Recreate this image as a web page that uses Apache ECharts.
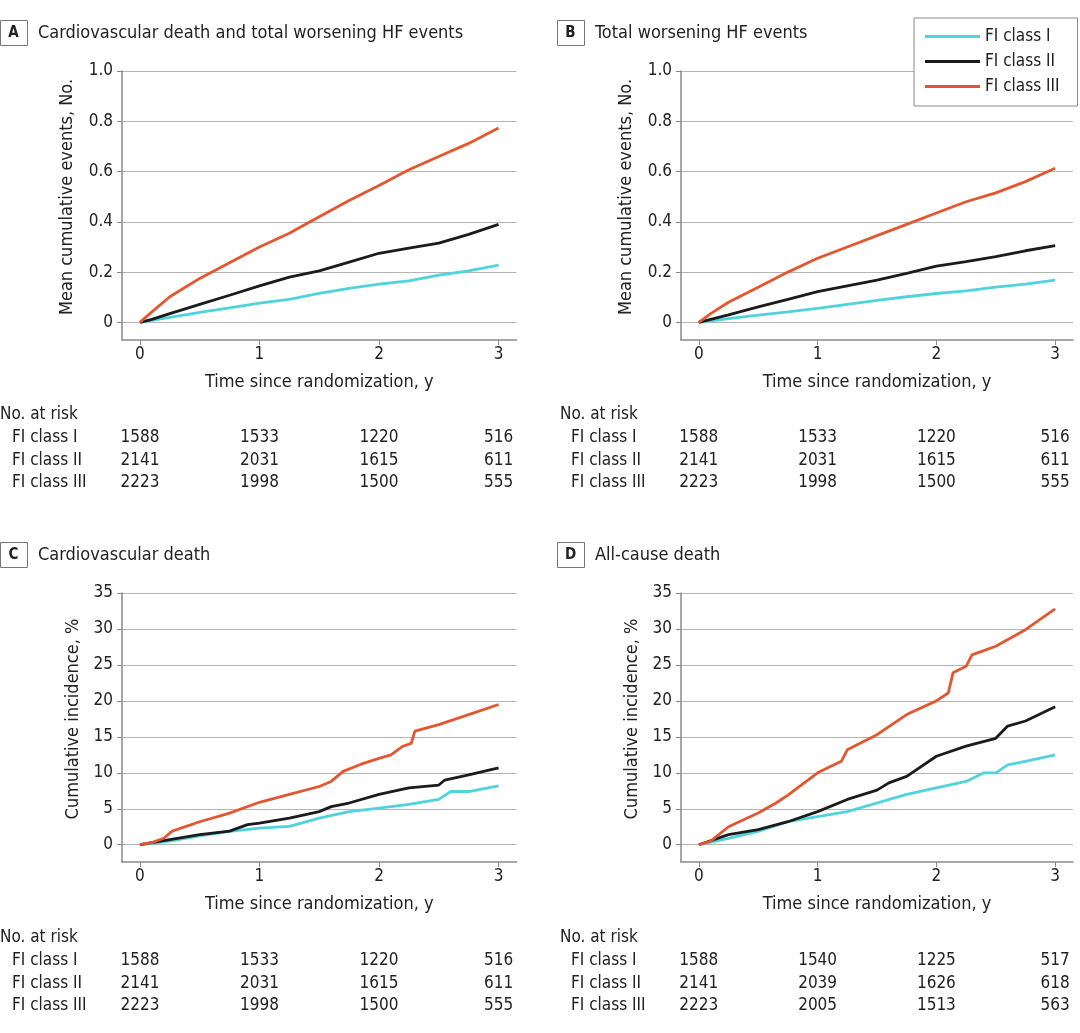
<!DOCTYPE html>
<html>
<head>
<meta charset="utf-8">
<script src="https://cdn.jsdelivr.net/npm/echarts@6/dist/echarts.min.js"></script>
<style>
  html, body { margin: 0; padding: 0; background: #fff; }
  #chart { width: 1080px; height: 1033px; }
</style>
</head>
<body>
<div id="chart"></div>
<script>
// series names
const classNames = ['FI class I', 'FI class II', 'FI class III']
const classColors = ['#4fd3dd', '#1b1b1b', '#e2572f']

// A: cardiovascular death and total worsening HF events (mean cumulative events)
const timeA = [0, 0.1, 0.25, 0.5, 0.75, 1, 1.25, 1.5, 1.75, 2, 2.25, 2.5, 2.75, 3]
const aClass1 = [0, 0.008, 0.02, 0.04, 0.058, 0.077, 0.092, 0.115, 0.135, 0.152, 0.165, 0.188, 0.205, 0.228]
const aClass2 = [0, 0.012, 0.035, 0.072, 0.108, 0.145, 0.18, 0.205, 0.24, 0.275, 0.295, 0.315, 0.35, 0.39]
const aClass3 = [0, 0.042, 0.102, 0.175, 0.237, 0.30, 0.355, 0.42, 0.485, 0.545, 0.607, 0.66, 0.712, 0.773]

// B: total worsening HF events
const timeB = [0, 0.1, 0.25, 0.5, 0.75, 1, 1.25, 1.5, 1.75, 2, 2.25, 2.5, 2.75, 3]
const bClass1 = [0, 0.006, 0.015, 0.029, 0.042, 0.056, 0.072, 0.088, 0.102, 0.115, 0.125, 0.14, 0.152, 0.168]
const bClass2 = [0, 0.012, 0.03, 0.062, 0.092, 0.122, 0.145, 0.168, 0.195, 0.224, 0.242, 0.262, 0.285, 0.305]
const bClass3 = [0, 0.035, 0.08, 0.14, 0.20, 0.255, 0.30, 0.345, 0.39, 0.435, 0.48, 0.515, 0.56, 0.613]

// C: cardiovascular death (cumulative incidence, %)
const cTime1 = [0, 0.25, 0.5, 0.75, 1, 1.25, 1.5, 1.75, 2, 2.25, 2.5, 2.6, 2.75, 3]
const cClass1 = [0, 0.5, 1.25, 1.85, 2.3, 2.55, 3.7, 4.6, 5.1, 5.6, 6.3, 7.4, 7.4, 8.2]
const cTime2 = [0, 0.25, 0.5, 0.75, 0.9, 1, 1.25, 1.5, 1.6, 1.75, 2, 2.25, 2.5, 2.55, 2.75, 3]
const cClass2 = [0, 0.7, 1.4, 1.9, 2.8, 3.0, 3.7, 4.6, 5.3, 5.8, 7.0, 7.9, 8.3, 9.0, 9.7, 10.7]
const cTime3 = [0, 0.1, 0.2, 0.27, 0.5, 0.75, 1, 1.25, 1.5, 1.6, 1.7, 1.85, 2, 2.1, 2.2, 2.27, 2.3, 2.5, 2.75, 3]
const cClass3 = [0, 0.3, 0.9, 1.9, 3.2, 4.4, 5.9, 7.0, 8.1, 8.8, 10.2, 11.2, 12.0, 12.5, 13.7, 14.1, 15.8, 16.7, 18.1, 19.5]

// D: all-cause death (cumulative incidence, %)
const dTime1 = [0, 0.25, 0.5, 0.75, 1, 1.25, 1.5, 1.75, 2, 2.25, 2.4, 2.5, 2.6, 2.75, 3]
const dClass1 = [0, 0.9, 1.85, 3.2, 3.9, 4.6, 5.8, 7.0, 7.9, 8.8, 10.0, 10.0, 11.1, 11.6, 12.5]
const dTime2 = [0, 0.25, 0.5, 0.75, 1, 1.25, 1.5, 1.6, 1.75, 2, 2.25, 2.5, 2.6, 2.75, 3]
const dClass2 = [0, 1.4, 2.1, 3.2, 4.6, 6.3, 7.6, 8.6, 9.5, 12.3, 13.7, 14.8, 16.5, 17.2, 19.2]
const dTime3 = [0, 0.1, 0.25, 0.5, 0.65, 0.75, 1, 1.2, 1.25, 1.5, 1.75, 2, 2.1, 2.14, 2.25, 2.3, 2.5, 2.75, 3]
const dClass3 = [0, 0.5, 2.5, 4.4, 5.8, 6.9, 10.0, 11.6, 13.2, 15.3, 18.1, 20.0, 21.1, 23.9, 24.8, 26.4, 27.6, 29.9, 32.8]

// axis ticks
const xTicks = [0, 1, 2, 3]
const eventTicks = [0, 0.2, 0.4, 0.6, 0.8, 1.0]
const incidenceTicks = [0, 5, 10, 15, 20, 25, 30, 35]

// no. at risk
const riskTimes = [0, 1, 2, 3]
const riskA1 = [1588, 1533, 1220, 516]
const riskA2 = [2141, 2031, 1615, 611]
const riskA3 = [2223, 1998, 1500, 555]
const riskB1 = [1588, 1533, 1220, 516]
const riskB2 = [2141, 2031, 1615, 611]
const riskB3 = [2223, 1998, 1500, 555]
const riskC1 = [1588, 1533, 1220, 516]
const riskC2 = [2141, 2031, 1615, 611]
const riskC3 = [2223, 1998, 1500, 555]
const riskD1 = [1588, 1540, 1225, 517]
const riskD2 = [2141, 2039, 1626, 618]
const riskD3 = [2223, 2005, 1513, 563]

const FONT = '"DejaVu Sans Condensed", "DejaVu Sans", sans-serif'
const TXT = '#222'

const zip = (xs, ys) => xs.map((x, i) => [x, ys[i]])

const panels = [
  {
    letter: 'A', title: 'Cardiovascular death and total worsening HF events',
    yName: 'Mean cumulative events, No.', ticks: eventTicks, yMin: -0.07, yMax: 1.0, split: 5,
    lines: [zip(timeA, aClass1), zip(timeA, aClass2), zip(timeA, aClass3)],
    risk: [riskA1, riskA2, riskA3]
  },
  {
    letter: 'B', title: 'Total worsening HF events',
    yName: 'Mean cumulative events, No.', ticks: eventTicks, yMin: -0.07, yMax: 1.0, split: 5,
    lines: [zip(timeB, bClass1), zip(timeB, bClass2), zip(timeB, bClass3)],
    risk: [riskB1, riskB2, riskB3]
  },
  {
    letter: 'C', title: 'Cardiovascular death',
    yName: 'Cumulative incidence, %', ticks: incidenceTicks, yMin: -2.4, yMax: 35, split: 7,
    lines: [zip(cTime1, cClass1), zip(cTime2, cClass2), zip(cTime3, cClass3)],
    risk: [riskC1, riskC2, riskC3]
  },
  {
    letter: 'D', title: 'All-cause death',
    yName: 'Cumulative incidence, %', ticks: incidenceTicks, yMin: -2.4, yMax: 35, split: 7,
    lines: [zip(dTime1, dClass1), zip(dTime2, dClass2), zip(dTime3, dClass3)],
    risk: [riskD1, riskD2, riskD3]
  }
]

// panel placement
const layout = [
  { left: 122, width: 394.5, top: 71, riskTop: 438, boxX: 0, boxY: 20, headY: 415, nameGap: 46 },
  { left: 681, width: 392, top: 71, riskTop: 438, boxX: 557, boxY: 20, headY: 415, nameGap: 46 },
  { left: 122, width: 394.5, top: 593, riskTop: 961, boxX: 0, boxY: 542, headY: 938, nameGap: 40 },
  { left: 681, width: 392, top: 593, riskTop: 961, boxX: 557, boxY: 542, headY: 938, nameGap: 40 }
]

const grid = [], xAxis = [], yAxis = [], series = [], graphic = []

panels.forEach((p, i) => {
  const L = layout[i]
  grid.push({ left: L.left, top: L.top, width: L.width, height: 269 })
  xAxis.push({
    type: 'value', gridIndex: i, min: -0.15, max: 3.15,
    name: 'Time since randomization, y', nameLocation: 'middle', nameGap: 33,
    nameTextStyle: { fontFamily: FONT, fontSize: 18, color: TXT },
    axisLine: { onZero: false, lineStyle: { color: '#8a8a8a', width: 1.5 } },
    axisTick: { length: 5, lineStyle: { color: '#8a8a8a' }, customValues: xTicks },
    axisLabel: { customValues: xTicks, margin: 6, fontFamily: FONT, fontSize: 17, color: TXT },
    splitLine: { show: false }
  })
  yAxis.push({
    type: 'value', gridIndex: i, min: p.yMin, max: p.yMax, splitNumber: p.split,
    name: p.yName, nameLocation: 'middle', nameGap: L.nameGap,
    nameTextStyle: { fontFamily: FONT, fontSize: 18, color: TXT, padding: [0, 0, 0, 17] },
    axisLine: { show: true, onZero: false, lineStyle: { color: '#8a8a8a', width: 1.5 } },
    axisTick: { show: true, length: 5, lineStyle: { color: '#8a8a8a' }, customValues: p.ticks },
    axisLabel: {
      customValues: p.ticks, margin: 9, fontFamily: FONT, fontSize: 17, color: TXT,
      formatter: v => (p.yMax === 1 && v !== 0) ? v.toFixed(1) : String(v)
    },
    splitLine: { show: true, lineStyle: { color: '#b4b4b4', width: 1.2 } }
  })
  p.lines.forEach((d, k) => {
    series.push({
      type: 'line', name: classNames[k], xAxisIndex: i, yAxisIndex: i, data: d,
      showSymbol: false, symbol: 'none', z: 3,
      lineStyle: { color: classColors[k], width: 2.8 }, itemStyle: { color: classColors[k] }
    })
  })

  // panel letter box and title
  graphic.push({
    type: 'rect', left: L.boxX, top: L.boxY, shape: { width: 27, height: 25 },
    style: { fill: '#fff', stroke: '#777', lineWidth: 1 }
  })
  graphic.push({
    type: 'text', x: L.boxX + 13.5, y: L.boxY + 13,
    style: { text: p.letter, fontFamily: FONT, fontWeight: 'bold', fontSize: 15, fill: TXT, align: 'center', verticalAlign: 'middle' }
  })
  graphic.push({
    type: 'text', x: L.boxX + 38, y: L.boxY + 13,
    style: { text: p.title, fontFamily: FONT, fontSize: 18, fill: TXT, align: 'left', verticalAlign: 'middle' }
  })
  graphic.push({
    type: 'text', x: L.boxX + (i % 2 ? 3 : 0), y: L.headY,
    style: { text: 'No. at risk', fontFamily: FONT, fontSize: 17, fill: TXT, align: 'left', verticalAlign: 'middle' }
  })
})

// risk tables: numbers placed on the same x scale as the plots
panels.forEach((p, i) => {
  const L = layout[i]
  const g = 4 + i
  grid.push({ left: L.left, top: L.riskTop, width: L.width, height: 45 })
  xAxis.push({ type: 'value', gridIndex: g, min: -0.15, max: 3.15, show: false })
  yAxis.push({
    type: 'category', gridIndex: g, data: classNames, inverse: true, boundaryGap: false,
    axisLine: { show: false }, axisTick: { show: false }, splitLine: { show: false },
    axisLabel: { margin: 110, align: 'left', fontFamily: FONT, fontSize: 17, color: TXT }
  })
  const pts = []
  p.risk.forEach((row, r) => row.forEach((n, c) => pts.push([riskTimes[c], r, n])))
  series.push({
    type: 'scatter', xAxisIndex: g, yAxisIndex: g, data: pts, symbolSize: 2,
    itemStyle: { color: 'rgba(0,0,0,0)' }, silent: true, z: 5,
    label: {
      show: true, position: 'inside', formatter: q => String(q.value[2]),
      fontFamily: FONT, fontSize: 17, color: TXT, opacity: 1,
      textBorderWidth: 0, textBorderColor: 'transparent'
    },
    labelLayout: { hideOverlap: false }
  })
})

const chart = echarts.init(document.getElementById('chart'), null, { renderer: 'canvas' })
chart.setOption({
  animation: false,
  backgroundColor: '#fff',
  grid, xAxis, yAxis, series, graphic,
  legend: {
    data: classNames, orient: 'vertical', left: 914, top: 18,
    icon: 'rect', itemWidth: 55, itemHeight: 3, itemGap: 8,
    padding: [10, 18, 11, 11], backgroundColor: '#fff', borderColor: '#8a8a8a', borderWidth: 1,
    selectedMode: false, z: 10,
    textStyle: { fontFamily: FONT, fontSize: 17, color: TXT, lineHeight: 17 }
  }
})
</script>
</body>
</html>
